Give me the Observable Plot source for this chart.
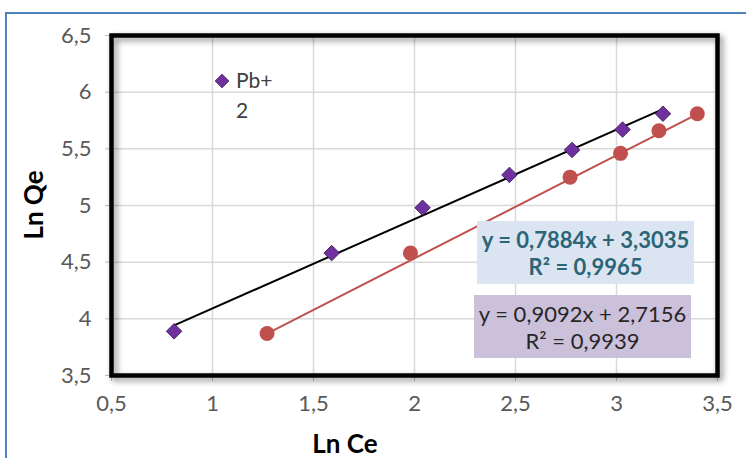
<!DOCTYPE html>
<html>
<head>
<meta charset="utf-8">
<script src="https://cdn.jsdelivr.net/npm/d3@7"></script>
<script src="https://cdn.jsdelivr.net/npm/@observablehq/plot@0.6"></script>
<style>
  html, body { margin: 0; padding: 0; background: #fff; }
  #wrap { position: relative; width: 746px; height: 458px; overflow: hidden; font-family: Lato, "Open Sans", sans-serif; }
  #border { position: absolute; left: 5px; top: 12px; right: -10px; bottom: -10px; border-left: 2.5px solid #4f81bd; border-top: 2.5px solid #4f81bd; pointer-events: none; }
  .eq { position: absolute; text-align: center; font-size: 22px; line-height: 27px; box-sizing: border-box; padding-top: 5px; white-space: nowrap; }
  .legend { position: absolute; font-size: 21px; color: #404040; }
</style>
</head>
<body>
<div id="wrap"><div id="border"></div></div>
<script>
// Data
const seriesNames = ["Pb+2", "second"];
const lnCe1 = [0.81, 1.59, 2.04, 2.47, 2.78, 3.03, 3.23];
const lnQe1 = [3.89, 4.58, 4.98, 5.27, 5.49, 5.67, 5.81];
const lnCe2 = [1.27, 1.98, 2.77, 3.02, 3.21, 3.40];
const lnQe2 = [3.87, 4.58, 5.25, 5.46, 5.66, 5.81];
const slope1 = 0.7884, intercept1 = 3.3035, r2_1 = 0.9965;
const slope2 = 0.9092, intercept2 = 2.7156, r2_2 = 0.9939;
const xTicks = [0.5, 1, 1.5, 2, 2.5, 3, 3.5];
const yTicks = [3.5, 4, 4.5, 5, 5.5, 6, 6.5];

const fmt = d => String(d).replace(".", ",");
const fmt4 = d => d.toFixed(4).replace(".", ",");

const pts1 = lnCe1.map((x, i) => ({x, y: lnQe1[i]}));
const pts2 = lnCe2.map((x, i) => ({x, y: lnQe2[i]}));
const fit = (xs, m, b) => [d3.min(xs), d3.max(xs)].map(x => ({x, y: m * x + b}));
const line1 = fit(lnCe1, slope1, intercept1);
const line2 = fit(lnCe2, slope2, intercept2);

const chart = Plot.plot({
  width: 746,
  height: 458,
  marginLeft: 111,
  marginRight: 29,
  marginTop: 35,
  marginBottom: 83,
  style: { fontFamily: "Lato, 'Open Sans', sans-serif", fontSize: "22px", color: "#595959", background: "transparent" },
  x: { domain: [0.5, 3.5], label: null },
  y: { domain: [3.5, 6.5], label: null },
  marks: [
    Plot.gridX(xTicks, { stroke: "#d9d9d9", strokeOpacity: 1, strokeWidth: 1.5 }),
    Plot.gridY(yTicks, { stroke: "#d9d9d9", strokeOpacity: 1, strokeWidth: 1.5 }),
    Plot.axisX({ ticks: xTicks, tickFormat: fmt, stroke: "#bfbfbf", tickSize: 6, tickPadding: 14, fill: "#595959", fontSize: 22, label: null }),
    Plot.axisY({ ticks: yTicks, tickFormat: fmt, stroke: "#bfbfbf", tickSize: 6, tickPadding: 14, fill: "#595959", fontSize: 22, label: null }),
    Plot.frame({ stroke: "black", strokeWidth: 4.5, className: "shadowframe" }),
    Plot.line(line2, { x: "x", y: "y", stroke: "#c0504d", strokeWidth: 2 }),
    Plot.line(line1, { x: "x", y: "y", stroke: "#000", strokeWidth: 2 }),
    Plot.dot(pts2, { x: "x", y: "y", r: 7.5, fill: "#c0504d", stroke: "none" }),
    Plot.dot(pts1, { x: "x", y: "y", r: 7, symbol: "diamond2", fill: "#7030a0", stroke: "#2d1544", strokeWidth: 0.8 })
  ]
});
chart.style.position = "absolute";
chart.style.left = "0";
chart.style.top = "0";
const wrap = document.getElementById("wrap");
wrap.appendChild(chart);
const fr = chart.querySelector(".shadowframe");
if (fr) fr.style.filter = "drop-shadow(3px 3px 3px rgba(0,0,0,0.45))";

// Axis titles
const yt = document.createElement("div");
yt.textContent = "Ln Qe";
Object.assign(yt.style, { position: "absolute", left: "33px", top: "205px", transform: "translate(-50%,-50%) rotate(-90deg)", fontWeight: "bold", fontSize: "26px", color: "#000", whiteSpace: "nowrap" });
wrap.appendChild(yt);
const xt = document.createElement("div");
xt.textContent = "Ln Ce";
Object.assign(xt.style, { position: "absolute", left: "345px", top: "443px", transform: "translate(-50%,-50%)", fontWeight: "bold", fontSize: "26px", color: "#000", whiteSpace: "nowrap" });
wrap.appendChild(xt);

// Legend
const leg = document.createElement("div");
leg.className = "legend";
Object.assign(leg.style, { left: "213px", top: "70px" });
leg.innerHTML = `<svg width="18" height="18" style="position:absolute;left:0;top:2px"><path d="M9,2 L16,9 L9,16 L2,9 Z" fill="#7030a0" stroke="#2d1544" stroke-width="0.6"/></svg>
<div style="position:absolute;left:23px;top:-2px;line-height:24px;white-space:nowrap"></div>
<div style="position:absolute;left:23px;top:28px;line-height:24px"></div>`;
leg.children[1].textContent = seriesNames[0].slice(0, 3);
leg.children[2].textContent = seriesNames[0].slice(3);
wrap.appendChild(leg);

// Equation boxes
const sign = v => v >= 0 ? "+" : "−";
const eq1 = document.createElement("div");
eq1.className = "eq";
Object.assign(eq1.style, { left: "477px", top: "221px", width: "217px", height: "63px", background: "#dbe5f1", color: "#2b6577", fontWeight: "bold" });
eq1.innerHTML = `y = ${fmt4(slope1)}x ${sign(intercept1)} ${fmt4(Math.abs(intercept1))}<br>R² = ${fmt4(r2_1)}`;
wrap.appendChild(eq1);
const eq2 = document.createElement("div");
eq2.className = "eq";
Object.assign(eq2.style, { left: "474px", top: "295px", width: "217px", height: "63px", background: "#ccc1da", color: "#262626" });
eq2.innerHTML = `y = ${fmt4(slope2)}x ${sign(intercept2)} ${fmt4(Math.abs(intercept2))}<br>R² = ${fmt4(r2_2)}`;
wrap.appendChild(eq2);
</script>
</body>
</html>
